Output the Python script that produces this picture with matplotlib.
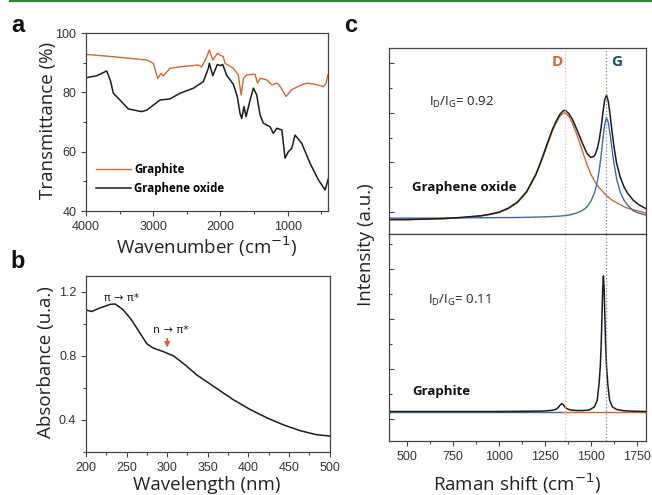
import numpy as np
import matplotlib
matplotlib.use("Agg")
import matplotlib.pyplot as plt
from matplotlib.ticker import MultipleLocator, NullFormatter, FormatStrFormatter

# ---- panel a : FTIR ----
ftir_graphite_x = [4000, 3594, 3097, 2998, 2933, 2884, 2850, 2750, 2601, 2329, 2280, 2204, 2165,
                   2115, 2046, 2006, 1957, 1932, 1808, 1734, 1693, 1657, 1607, 1485, 1449, 1411,
                   1310, 1235, 1161, 1113, 1024, 940, 815, 716, 592, 468, 428, 403]
ftir_graphite_y = [92.8, 92.0, 90.9, 89.8, 84.7, 86.4, 85.5, 88.1, 88.6, 89.2, 88.5, 92.0, 94.3,
                   90.9, 93.1, 92.6, 92.0, 89.8, 88.1, 85.9, 79.1, 84.7, 85.9, 86.1, 83.1, 84.7,
                   84.2, 82.5, 83.1, 82.0, 78.6, 80.9, 82.3, 83.1, 82.7, 81.9, 83.1, 85.9]

ftir_go_x = [4000, 3840, 3692, 3632, 3594, 3494, 3370, 3172, 3097, 2899, 2750, 2601, 2402, 2329,
             2254, 2180, 2165, 2115, 2046, 1997, 1967, 1908, 1808, 1749, 1709, 1684, 1649, 1619,
             1559, 1510, 1460, 1411, 1362, 1262, 1213, 1161, 1086, 1039, 989, 940, 890, 791,
             667, 543, 443, 394]
ftir_go_y = [84.9, 85.6, 87.2, 83.6, 79.7, 77.4, 74.4, 73.5, 74.0, 77.4, 77.8, 79.7, 81.4, 82.5,
             83.6, 88.1, 89.8, 85.6, 89.4, 89.0, 89.4, 85.8, 82.7, 78.5, 72.9, 71.2, 75.2, 71.8,
             77.4, 81.4, 79.1, 72.4, 69.6, 68.4, 66.2, 67.9, 67.3, 57.8, 60.0, 61.1, 65.6, 62.8,
             56.1, 50.5, 47.1, 51.0]

# ---- panel b : UV-vis ----
uv_x = [200, 207, 217, 230, 236, 246, 256, 264, 275, 283, 295, 308, 322, 336, 357, 381, 402,
        423, 443, 464, 484, 500]
uv_y = [1.088, 1.078, 1.100, 1.123, 1.125, 1.088, 1.026, 0.963, 0.876, 0.849, 0.828, 0.800,
        0.745, 0.683, 0.611, 0.528, 0.466, 0.413, 0.370, 0.333, 0.308, 0.300]

# ---- panel c : Raman, graphene oxide (top) ----
go_shift = [400, 500, 600, 700, 800, 900, 950, 1000, 1050, 1100, 1150, 1200, 1230, 1260, 1290,
            1310, 1330, 1345, 1355, 1365, 1380, 1400, 1420, 1440, 1460, 1480, 1500, 1520, 1535,
            1545, 1555, 1565, 1575, 1585, 1595, 1605, 1615, 1625, 1640, 1660, 1680, 1700, 1730,
            1760, 1800]
go_total = [-0.15, -0.15, -0.14, -0.13, -0.105, -0.073, -0.042, 0.00, 0.08, 0.202, 0.415, 0.76,
            1.043, 1.357, 1.662, 1.825, 1.96, 2.025, 2.048, 2.032, 1.98, 1.86, 1.69, 1.51, 1.33,
            1.17, 1.10, 1.13, 1.28, 1.45, 1.69, 1.99, 2.26, 2.35, 2.22, 1.94, 1.62, 1.33, 0.98,
            0.70, 0.51, 0.38, 0.24, 0.15, 0.07]
go_d_band = [-0.15, -0.15, -0.14, -0.13, -0.11, -0.08, -0.05, -0.01, 0.07, 0.19, 0.40, 0.74,
             1.02, 1.33, 1.63, 1.79, 1.92, 1.98, 2.00, 1.98, 1.92, 1.78, 1.59, 1.38, 1.16, 0.94,
             0.76, 0.62, 0.54, 0.49, 0.45, 0.41, 0.37, 0.33, 0.30, 0.27, 0.24, 0.22, 0.19, 0.15,
             0.11, 0.08, 0.05, 0.02, -0.02]
go_g_band = [-0.12, -0.12, -0.12, -0.12, -0.115, -0.113, -0.112, -0.11, -0.11, -0.108, -0.105,
             -0.10, -0.097, -0.093, -0.088, -0.085, -0.08, -0.075, -0.072, -0.068, -0.06, -0.04,
             -0.02, 0.01, 0.05, 0.11, 0.22, 0.39, 0.62, 0.84, 1.12, 1.46, 1.77, 1.90, 1.80, 1.55,
             1.26, 0.99, 0.67, 0.40, 0.24, 0.14, 0.03, -0.02, -0.06]

# ---- panel c : Raman, graphite (bottom) ----
gr_shift = [400, 800, 1000, 1150, 1250, 1290, 1310, 1322, 1332, 1341, 1350, 1360, 1372, 1390,
            1420, 1460, 1490, 1518, 1534, 1544, 1551, 1556, 1560, 1564, 1568, 1572, 1576, 1580,
            1585, 1592, 1602, 1618, 1640, 1680, 1740, 1800]
gr_total = [0.15, 0.15, 0.15, 0.155, 0.16, 0.175, 0.195, 0.23, 0.275, 0.31, 0.28, 0.235, 0.20,
            0.18, 0.17, 0.17, 0.18, 0.24, 0.37, 0.69, 1.05, 1.50, 2.03, 2.59, 2.86, 2.59, 2.03,
            1.50, 1.05, 0.69, 0.37, 0.24, 0.19, 0.165, 0.155, 0.15]
gr_blue_x = [400, 1345]
gr_blue_y = [0.145, 0.145]
gr_orange_x = [1345, 1800]
gr_orange_y = [0.145, 0.145]

d_pos = 1358
g_pos = 1580

ORANGE = "#d8652d"
BLUE = "#3b69b0"
BLACK = "#1c1c1c"
SPINE = "#444444"
TICKFONT = "Liberation Sans"
LABELFONT = "Open Sans"
LABELSIZE = 13.5

W, H = 652, 495
fig = plt.figure(figsize=(W / 100, H / 100), dpi=100)


def box(l, r, t, b):
    return [l / W, 1 - b / H, (r - l) / W, (b - t) / H]


def style(ax, direction="out"):
    for s in ax.spines.values():
        s.set_color(SPINE)
        s.set_linewidth(0.9)
    ax.tick_params(which="both", direction=direction, color=SPINE, width=0.8,
                   labelsize=9, labelcolor="#333333")
    ax.tick_params(which="major", length=3.5)
    ax.tick_params(which="minor", length=2)
    for lab in ax.get_xticklabels() + ax.get_yticklabels():
        lab.set_fontfamily(TICKFONT)


# green rule at top
fig.add_artist(plt.Line2D([10 / W, 1], [1 - 1 / H, 1 - 1 / H], color="#1f8f2e", lw=1.6))

# ---------------- a ----------------
ax_a = fig.add_axes(box(86, 328, 33, 211))
ax_a.plot(ftir_graphite_x, ftir_graphite_y, color=ORANGE, lw=1.0, label="Graphite")
ax_a.plot(ftir_go_x, ftir_go_y, color=BLACK, lw=1.1, label="Graphene oxide")
ax_a.set_xlim(4000, 400)
ax_a.set_ylim(40, 100)
ax_a.xaxis.set_major_locator(MultipleLocator(1000))
ax_a.xaxis.set_minor_locator(MultipleLocator(500))
ax_a.yaxis.set_major_locator(MultipleLocator(20))
ax_a.yaxis.set_minor_locator(MultipleLocator(10))
style(ax_a)
ax_a.legend(loc="lower left", bbox_to_anchor=(0.0, 0.03), frameon=False,
            handlelength=3.0, handletextpad=0.3, labelspacing=0.55,
            prop={"family": LABELFONT, "weight": "bold", "size": 8.3})

fig.text(48 / W, 1 - 120 / H, "Transmittance (%)", rotation=90, ha="center", va="center",
         fontsize=LABELSIZE, family=LABELFONT, color="#222222")
fig.text(207 / W, 1 - 247 / H, "Wavenumber (cm$^{-1}$)", ha="center", va="center",
         fontsize=LABELSIZE, family=LABELFONT, color="#222222")

# ---------------- b ----------------
ax_b = fig.add_axes(box(86, 329.6, 276, 452))
ax_b.plot(uv_x, uv_y, color=BLACK, lw=1.1)
ax_b.set_xlim(200, 500)
ax_b.set_ylim(0.2, 1.3)
ax_b.xaxis.set_major_locator(MultipleLocator(50))
ax_b.xaxis.set_minor_locator(MultipleLocator(25))
ax_b.yaxis.set_major_locator(MultipleLocator(0.4))
ax_b.yaxis.set_minor_locator(MultipleLocator(0.2))
ax_b.yaxis.set_major_formatter(FormatStrFormatter("%.1f"))
style(ax_b)
ax_b.text(244, 1.16, "π → π*", ha="center", va="center", fontsize=8, color="#222222")
ax_b.text(304, 0.965, "n → π*", ha="center", va="center", fontsize=8, color="#222222")
ax_b.annotate("", xy=(300, 0.835), xytext=(300, 0.925),
              arrowprops=dict(arrowstyle="-|>", color=ORANGE, lw=1.3, mutation_scale=7))

fig.text(46 / W, 1 - 362 / H, "Absorbance (u.a.)", rotation=90, ha="center", va="center",
         fontsize=LABELSIZE, family=LABELFONT, color="#222222")
fig.text(207 / W, 1 - 484.5 / H, "Wavelength (nm)", ha="center", va="center",
         fontsize=LABELSIZE, family=LABELFONT, color="#222222")

# ---------------- c ----------------
ax_ct = fig.add_axes(box(389, 646, 48, 234))
ax_cb = fig.add_axes(box(389, 646, 234, 441))

ax_ct.plot(go_shift, go_d_band, color=ORANGE, lw=1.0)
ax_ct.plot(go_shift, go_g_band, color=BLUE, lw=1.0)
ax_ct.plot(go_shift, go_total, color=BLACK, lw=1.1)
ax_ct.set_ylim(-0.44, 3.30)

ax_cb.plot(gr_blue_x, gr_blue_y, color=BLUE, lw=1.0)
ax_cb.plot(gr_orange_x, gr_orange_y, color=ORANGE, lw=1.0)
ax_cb.plot(gr_shift, gr_total, color=BLACK, lw=1.1)
ax_cb.set_ylim(-0.44, 3.70)

for ax in (ax_ct, ax_cb):
    ax.set_xlim(400, 1800)
    ax.axvline(d_pos, color="#f3b196", ls=":", lw=0.9)
    ax.axvline(g_pos, color="#6f86b3", ls=":", lw=0.9)
    ax.yaxis.set_major_locator(MultipleLocator(1))
    ax.yaxis.set_minor_locator(MultipleLocator(0.5))
    ax.yaxis.set_major_formatter(NullFormatter())
    ax.xaxis.set_major_locator(MultipleLocator(250))
    ax.xaxis.set_minor_locator(MultipleLocator(125))
    style(ax)
    ax.tick_params(axis="y", which="both", direction="in")

ax_ct.tick_params(axis="x", which="both", bottom=False, labelbottom=False)

ax_ct.text(1315, 3.02, "D", color=ORANGE, fontsize=11, fontweight="bold", family=LABELFONT,
           ha="center", va="center")
ax_ct.text(1640, 3.02, "G", color="#1d4a8a", fontsize=11, fontweight="bold", family=LABELFONT,
           ha="center", va="center")
ax_ct.text(620, 2.20, r"I$_\mathregular{D}$/I$_\mathregular{G}$= 0.92", fontsize=9.5,
           family=LABELFONT, ha="left", va="center", color="#222222")
ax_ct.text(526, 0.49, "Graphene oxide", fontsize=9.5, fontweight="bold", family=LABELFONT,
           ha="left", va="center", color="#111111")
ax_cb.text(613, 2.38, r"I$_\mathregular{D}$/I$_\mathregular{G}$= 0.11", fontsize=9.5,
           family=LABELFONT, ha="left", va="center", color="#222222")
ax_cb.text(526, 0.55, "Graphite", fontsize=9.5, fontweight="bold", family=LABELFONT,
           ha="left", va="center", color="#111111")

fig.text(366 / W, 1 - 245 / H, "Intensity (a.u.)", rotation=90, ha="center", va="center",
         fontsize=LABELSIZE, family=LABELFONT, color="#222222")
fig.text(517 / W, 1 - 484 / H, "Raman shift (cm$^{-1}$)", ha="center", va="center",
         fontsize=LABELSIZE, family=LABELFONT, color="#222222")

# panel letters
for x, y, s in [(18, 26, "a"), (18, 262, "b"), (351, 26, "c")]:
    fig.text(x / W, 1 - y / H, s, fontsize=17, fontweight="bold", family=TICKFONT,
             ha="center", va="center", color="#111111")

fig.savefig("out.png", dpi=100)
